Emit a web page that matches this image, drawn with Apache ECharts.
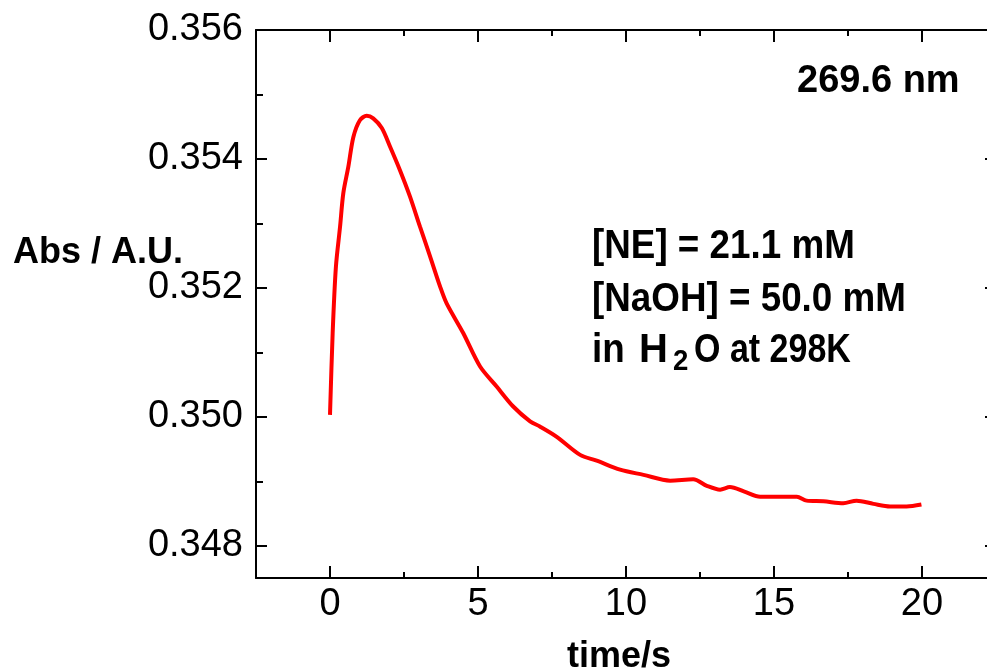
<!DOCTYPE html>
<html>
<head>
<meta charset="utf-8">
<script src="https://cdn.jsdelivr.net/npm/echarts@6/dist/echarts.min.js"></script>
<style>
html,body{margin:0;padding:0;background:#fff;}
#chart{width:987px;height:672px;}
</style>
</head>
<body>
<div id="chart"></div>
<script>
// time (s)
const times = [0, 0.09, 0.2, 0.34, 0.45, 0.62, 0.79, 1.01, 1.24, 1.46, 1.75, 2.03, 2.36, 2.70, 3.04, 3.38, 3.72, 3.94, 4.50, 5.07, 5.63, 6.19, 6.76, 7.09, 7.66, 8.45, 9.01, 9.80, 10.59, 11.49, 12.27, 12.73, 13.18, 13.51, 14.0, 14.53, 14.98, 15.77, 16.10, 16.67, 17.34, 17.79, 18.36, 18.92, 19.48, 19.98];
// absorbance (A.U.)
const absorbance = [0.35003, 0.35130, 0.35233, 0.35295, 0.35347, 0.35388, 0.35434, 0.35460, 0.35467, 0.35463, 0.35448, 0.35419, 0.35383, 0.35342, 0.35295, 0.35249, 0.35202, 0.35176, 0.35130, 0.35078, 0.35047, 0.35016, 0.34993, 0.34985, 0.34969, 0.34941, 0.34932, 0.34918, 0.34910, 0.34901, 0.34903, 0.34893, 0.34887, 0.34891, 0.34884, 0.34876, 0.34876, 0.34876, 0.34870, 0.34869, 0.34866, 0.34870, 0.34865, 0.34861, 0.34861, 0.34864];

const xMajorTicks = [0, 5, 10, 15, 20];
const xMinorTicks = [2.5, 7.5, 12.5, 17.5];
const yMajorTicks = [0.348, 0.350, 0.352, 0.354, 0.356];
const yMinorTicks = [0.349, 0.351, 0.353, 0.355];

const xTitle = 'time/s';
const yTitle = 'Abs / A.U.';
const wavelengthLabel = '269.6 nm';
const conditionLines = ['[NE] = 21.1 mM', '[NaOH] = 50.0 mM'];

const X_MIN = -2.5, X_MAX = 22.5, Y_MIN = 0.3475, Y_MAX = 0.356;
const FONT = '"Liberation Sans", Arial, sans-serif';
const lineStyle = {color: '#000', width: 2};

function xAxisDef(position, ticks, len, showLine, showLabel) {
  return {
    type: 'value', position: position, min: X_MIN, max: X_MAX,
    axisLine: {show: showLine, onZero: false, lineStyle: lineStyle},
    axisTick: {show: true, inside: true, length: len, customValues: ticks, lineStyle: lineStyle},
    axisLabel: {show: showLabel, customValues: ticks, margin: 8, color: '#000', fontSize: 38, fontFamily: FONT,
      formatter: v => String(v)},
    splitLine: {show: false}
  };
}
function yAxisDef(position, ticks, len, showLine, showLabel) {
  return {
    type: 'value', position: position, min: Y_MIN, max: Y_MAX,
    axisLine: {show: showLine, onZero: false, lineStyle: lineStyle},
    axisTick: {show: true, inside: true, length: len, customValues: ticks, lineStyle: lineStyle},
    axisLabel: {show: showLabel, customValues: ticks, margin: 13, color: '#000', fontSize: 38, fontFamily: FONT,
      formatter: v => v.toFixed(3)},
    splitLine: {show: false}
  };
}

const chart = echarts.init(document.getElementById('chart'), null, {renderer: 'canvas'});
const boldText = (text, x, y, size, sx, align) => ({
  type: 'text', x: x, y: y, scaleX: sx, scaleY: 1,
  style: {text: text, font: 'bold ' + size + 'px ' + FONT, fill: '#000', align: align || 'left', verticalAlign: 'middle'}
});

chart.setOption({
  animation: false,
  backgroundColor: '#fff',
  grid: {left: 256, width: 740, top: 30, height: 548, containLabel: false, outerBoundsMode: 'none'},
  xAxis: [
    xAxisDef('bottom', xMajorTicks, 12, true, true),
    xAxisDef('bottom', xMinorTicks, 6, false, false),
    xAxisDef('top', xMajorTicks, 12, true, false),
    xAxisDef('top', xMinorTicks, 6, false, false)
  ],
  yAxis: [
    yAxisDef('left', yMajorTicks, 11, true, true),
    yAxisDef('left', yMinorTicks, 7, false, false),
    yAxisDef('right', yMajorTicks, 11, true, false),
    yAxisDef('right', yMinorTicks, 7, false, false)
  ],
  series: [{
    type: 'line', xAxisIndex: 0, yAxisIndex: 0,
    data: times.map((t, i) => [t, absorbance[i]]),
    showSymbol: false, smooth: 0.3,
    lineStyle: {color: '#ff0000', width: 4},
    clip: false
  }],
  graphic: [
    boldText(yTitle, 13, 253, 36, 1.0),
    boldText(xTitle, 619, 657, 36, 1.0, 'center'),
    boldText(wavelengthLabel, 797, 82, 38, 1.0),
    boldText(conditionLines[0], 592, 247, 40, 0.92),
    boldText(conditionLines[1], 592, 300, 40, 0.92),
    boldText('in', 592, 351, 40, 0.92),
    boldText('H', 639, 351, 40, 1.0),
    boldText('2', 673, 362, 30, 0.92),
    boldText('O at 298K', 694, 351, 40, 0.85)
  ]
});
</script>
</body>
</html>
